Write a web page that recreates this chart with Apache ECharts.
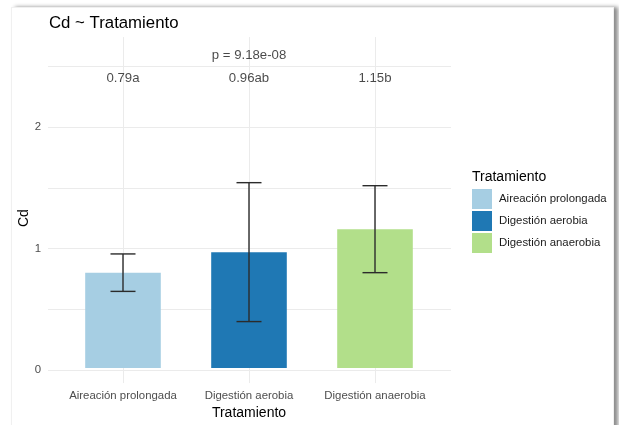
<!DOCTYPE html>
<html>
<head>
<meta charset="utf-8">
<script src="https://cdn.jsdelivr.net/npm/echarts@6/dist/echarts.min.js"></script>
<style>
  html, body { margin: 0; padding: 0; background: #fff; }
  #card {
    position: absolute; left: 11px; top: 7px; width: 601px; height: 440px;
    border: 1px solid #f0f0f0; background: #fff;
    box-shadow: 4px 0 4px rgba(0,0,0,0.45);
  }
  #chart { position: absolute; left: 0; top: 0; width: 619px; height: 425px; }
</style>
</head>
<body>
<div id="card"></div>
<div id="chart"></div>
<script>
// Treatment groups, mean Cd, error-bar bounds and post-hoc letters
const categories = ['Aireación prolongada', 'Digestión aerobia', 'Digestión anaerobia'];
const means = [0.79, 0.96, 1.15];
const lower = [0.635, 0.385, 0.79];
const upper = [0.945, 1.535, 1.51];
const letters = ['a', 'ab', 'b'];
const pText = 'p = 9.18e-08';
const labelY = 2.4;
const pY = 2.59;
const colors = ['#A6CEE3', '#1F78B4', '#B2DF8A'];
const yTicks = [0, 1, 2];

// panel: value 0 sits at y=370, 121.5 px per unit, panel top at y=37
const Y_MIN = 0, Y_MAX = 2.74, GRID_MAX = 2.5;
const PX_PER_UNIT = 121.5, ZERO_Y = 370;
const FONT = 'Liberation Sans, Arial, sans-serif';
const GRID_COLOR = '#ebebeb';

const chart = echarts.init(document.getElementById('chart'), null, { renderer: 'canvas' });

// one bar series per group so that the legend lists each fill
const barSeries = categories.map((c, i) => ({
  name: c,
  type: 'bar',
  xAxisIndex: 1, yAxisIndex: 1,
  barWidth: '60%',
  barGap: '-100%',
  itemStyle: { color: colors[i] },
  data: categories.map((_, j) => (j === i ? means[j] : '-')),
  z: 2
}));

const errorSeries = {
  type: 'custom',
  xAxisIndex: 1, yAxisIndex: 1,
  z: 3,
  silent: true,
  data: categories.map((_, i) => [i, lower[i], upper[i]]),
  renderItem: function (params, api) {
    const x = api.value(0);
    const lo = api.coord([x, api.value(1)]);
    const hi = api.coord([x, api.value(2)]);
    const half = 12.5;
    const style = { stroke: '#2b2b2b', lineWidth: 1.4 };
    return {
      type: 'group',
      children: [
        { type: 'line', shape: { x1: lo[0], y1: lo[1], x2: hi[0], y2: hi[1] }, style },
        { type: 'line', shape: { x1: hi[0] - half, y1: hi[1], x2: hi[0] + half, y2: hi[1] }, style },
        { type: 'line', shape: { x1: lo[0] - half, y1: lo[1], x2: lo[0] + half, y2: lo[1] }, style }
      ]
    };
  }
};

// group means with letters above each bar
const letterSeries = {
  type: 'scatter',
  xAxisIndex: 1, yAxisIndex: 1,
  symbolSize: 0,
  silent: true,
  z: 4,
  data: categories.map((_, i) => [i, labelY]),
  label: {
    show: true, position: 'inside',
    formatter: p => means[p.dataIndex].toFixed(2) + letters[p.dataIndex],
    fontFamily: FONT, fontSize: 13.2, color: '#1a1a1a'
  }
};

const pSeries = {
  type: 'scatter',
  xAxisIndex: 1, yAxisIndex: 1,
  symbolSize: 0,
  silent: true,
  z: 4,
  data: [[1, pY]],
  label: {
    show: true, position: 'inside',
    formatter: () => pText,
    fontFamily: FONT, fontSize: 13.2, color: '#1a1a1a'
  }
};

const option = {
  animation: false,
  backgroundColor: 'transparent',
  textStyle: { fontFamily: FONT },
  title: {
    text: 'Cd ~ Tratamiento',
    left: 44, top: 10,
    textStyle: { fontFamily: FONT, fontSize: 16.8, fontWeight: 'normal', color: '#000' }
  },
  legend: {
    orient: 'vertical',
    left: 472, top: 189,
    padding: 0,
    itemWidth: 20, itemHeight: 20, itemGap: 2,
    icon: 'rect',
    data: categories,
    textStyle: { fontFamily: FONT, fontSize: 11.4, color: '#1a1a1a', padding: [0, 0, 0, 2] },
    selectedMode: false
  },
  graphic: [{
    type: 'text', left: 472, top: 170,
    style: { text: 'Tratamiento', fontFamily: FONT, fontSize: 14, fill: '#000' }
  }],
  grid: [
    // horizontal grid lines: 0 .. 2.5
    { left: 48, right: 168, top: ZERO_Y - GRID_MAX * PX_PER_UNIT, bottom: 425 - ZERO_Y },
    // bars and annotations: 0 .. Y_MAX
    { left: 60, right: 181, top: ZERO_Y - Y_MAX * PX_PER_UNIT, bottom: 425 - ZERO_Y }
  ],
  xAxis: [
    { gridIndex: 0, type: 'value', show: false, min: 0, max: 1 },
    {
      gridIndex: 1, type: 'category', data: categories,
      axisLine: { show: false },
      axisTick: { show: true, alignWithLabel: true, length: 15, lineStyle: { color: GRID_COLOR, width: 1 } },
      axisLabel: { interval: 0, fontFamily: FONT, fontSize: 11.4, color: '#4d4d4d', margin: 22 },
      splitLine: { show: false },
      name: 'Tratamiento', nameLocation: 'middle', nameGap: 34,
      nameTextStyle: { fontFamily: FONT, fontSize: 14, color: '#000' }
    },
    {
      // vertical major grid lines at each group
      gridIndex: 1, type: 'category', data: categories, position: 'top',
      axisLine: { show: false },
      axisLabel: { show: false },
      axisTick: { show: true, inside: true, alignWithLabel: true, interval: 0,
        length: Math.round(Y_MAX * PX_PER_UNIT), lineStyle: { color: GRID_COLOR, width: 1 } }
    }
  ],
  yAxis: [
    {
      gridIndex: 0, type: 'value', min: Y_MIN, max: GRID_MAX, interval: 0.5,
      axisLine: { show: false }, axisTick: { show: false },
      splitLine: { show: true, lineStyle: { color: GRID_COLOR, width: 1 } },
      axisLabel: {
        fontFamily: FONT, fontSize: 11.4, color: '#4d4d4d', margin: 7,
        formatter: v => (yTicks.indexOf(v) >= 0 ? String(v) : '')
      },
      name: 'Cd', nameLocation: 'middle', nameGap: 17, nameRotate: 90,
      nameMoveOverlap: false,
      nameTextStyle: { fontFamily: FONT, fontSize: 14, color: '#000' }
    },
    { gridIndex: 1, type: 'value', min: Y_MIN, max: Y_MAX, show: false }
  ],
  series: [...barSeries, errorSeries, letterSeries, pSeries]
};

chart.setOption(option);
</script>
</body>
</html>
